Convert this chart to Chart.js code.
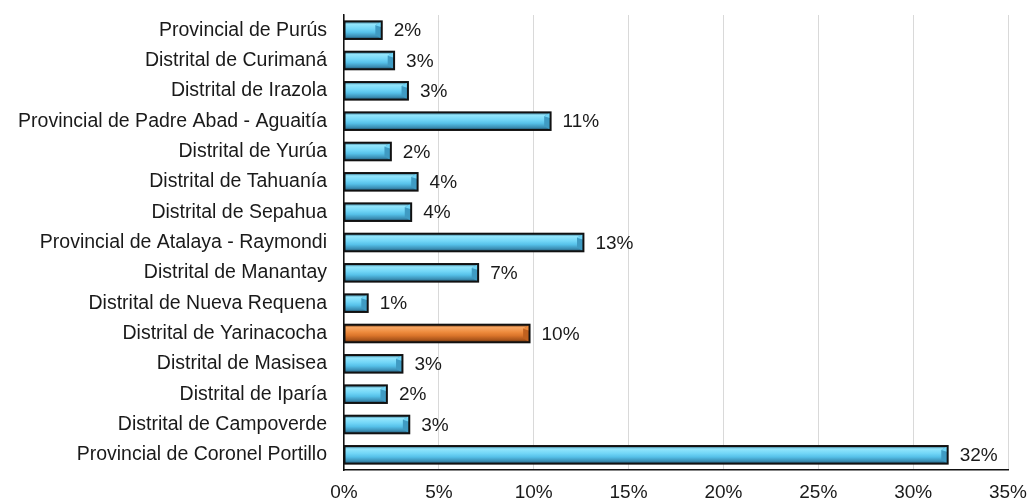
<!DOCTYPE html>
<html>
<head>
<meta charset="utf-8">
<script src="https://cdn.jsdelivr.net/npm/chart.js@4"></script>
<style>
  html, body { margin: 0; padding: 0; background: #fff; }
  #wrap { width: 1028px; height: 501px; position: relative; }
</style>
</head>
<body>
<div id="wrap"><canvas id="myChart"></canvas></div>
<script>
const categorias = [
  'Provincial de Purús',
  'Distrital de Curimaná',
  'Distrital de Irazola',
  'Provincial de Padre Abad - Aguaitía',
  'Distrital de Yurúa',
  'Distrital de Tahuanía',
  'Distrital de Sepahua',
  'Provincial de Atalaya - Raymondi',
  'Distrital de Manantay',
  'Distrital de Nueva Requena',
  'Distrital de Yarinacocha',
  'Distrital de Masisea',
  'Distrital de Iparía',
  'Distrital de Campoverde',
  'Provincial de Coronel Portillo'
];

const porcentajes = [1.99, 2.64, 3.37, 10.89, 2.47, 3.88, 3.54, 12.62, 7.07, 1.25, 9.78, 3.08, 2.26, 3.44, 31.82];

const ticksX = [0, 5, 10, 15, 20, 25, 30, 35];

const resaltado = 'Distrital de Yarinacocha';

const fuente = 'Liberation Sans, Arial, sans-serif';

function colores(i) {
  if (categorias[i] === resaltado) {
    return ['#7a3c10', '#f7a764', '#ee8b3d', '#db752b', '#a9541a', '#5a2b0b', '#c0611f'];
  }
  return ['#2b6782', '#94e6fc', '#72d6f7', '#56c1e9', '#3a8db3', '#21506a', '#3f9bc3'];
}

// barras con relieve (estilo Excel)
const relieve = {
  id: 'relieve',
  afterDatasetsDraw(chart) {
    const ctx = chart.ctx;
    const meta = chart.getDatasetMeta(0);
    meta.data.forEach((el, i) => {
      const p = el.getProps(['x', 'y', 'base', 'height'], true);
      const left = Math.min(p.base, p.x), right = Math.max(p.base, p.x);
      const top = p.y - p.height / 2, bot = p.y + p.height / 2;
      const c = colores(i);
      ctx.save();
      const g = ctx.createLinearGradient(0, top, 0, bot);
      g.addColorStop(0, c[0]);
      g.addColorStop(0.16, c[1]);
      g.addColorStop(0.42, c[2]);
      g.addColorStop(0.62, c[3]);
      g.addColorStop(0.86, c[4]);
      g.addColorStop(1, c[5]);
      ctx.fillStyle = g;
      ctx.fillRect(left, top, right - left, bot - top);
      // faceta del extremo derecho
      const b = 4;
      ctx.beginPath();
      ctx.moveTo(right - b * 1.6, top + b);
      ctx.lineTo(right, top);
      ctx.lineTo(right, bot);
      ctx.lineTo(right - b * 1.6, bot - b);
      ctx.closePath();
      ctx.fillStyle = c[6];
      ctx.fill();
      ctx.beginPath();
      ctx.moveTo(right - b * 1.6, top + b);
      ctx.lineTo(right, top);
      ctx.lineTo(right, top + b + 2);
      ctx.closePath();
      ctx.fillStyle = c[2];
      ctx.fill();
      ctx.lineWidth = 2;
      ctx.strokeStyle = '#111';
      ctx.strokeRect(left, top, right - left, bot - top);
      ctx.restore();
    });
  }
};

const etiquetas = {
  id: 'etiquetas',
  afterDraw(chart) {
    const ctx = chart.ctx;
    const meta = chart.getDatasetMeta(0);
    ctx.save();
    ctx.font = '19px ' + fuente;
    ctx.fillStyle = '#1a1a1a';
    ctx.textAlign = 'left';
    ctx.textBaseline = 'middle';
    meta.data.forEach((el, i) => {
      ctx.fillText(Math.round(porcentajes[i]) + '%', el.x + 12, el.y + 1);
    });
    ctx.restore();
  }
};

const data = {
  labels: categorias,
  datasets: [{
    data: porcentajes,
    backgroundColor: categorias.map((c, i) => colores(i)[2]),
    borderWidth: 0,
    categoryPercentage: 1,
    barPercentage: 0.58
  }]
};

const config = {
  type: 'bar',
  data: data,
  options: {
    indexAxis: 'y',
    responsive: true,
    maintainAspectRatio: false,
    animation: false,
    layout: { padding: { top: 15, right: 20, left: 0, bottom: 0 } },
    plugins: {
      legend: { display: false },
      tooltip: { enabled: false }
    },
    scales: {
      x: {
        min: 0,
        max: 35,
        afterBuildTicks(scale) {
          scale.ticks = ticksX.map(v => ({ value: v }));
        },
        afterFit(scale) {
          scale.height = 31;
          scale.paddingLeft = 0;
          scale.paddingRight = 0;
        },
        grid: { color: '#d9d9d9', lineWidth: 1, drawTicks: false },
        border: { color: '#111', width: 1.5 },
        ticks: {
          padding: 11,
          color: '#1a1a1a',
          font: { family: fuente, size: 19 },
          callback: v => v + '%'
        }
      },
      y: {
        afterFit(scale) {
          scale.width = 344;
          scale.paddingTop = 0;
          scale.paddingBottom = 0;
        },
        grid: { display: false, drawTicks: false },
        border: { color: '#111', width: 1.5 },
        ticks: {
          padding: 17,
          color: '#1a1a1a',
          font: { family: fuente, size: 19.5 }
        }
      }
    }
  },
  plugins: [relieve, etiquetas]
};

const myChart = new Chart(document.getElementById('myChart'), config);
</script>
</body>
</html>
